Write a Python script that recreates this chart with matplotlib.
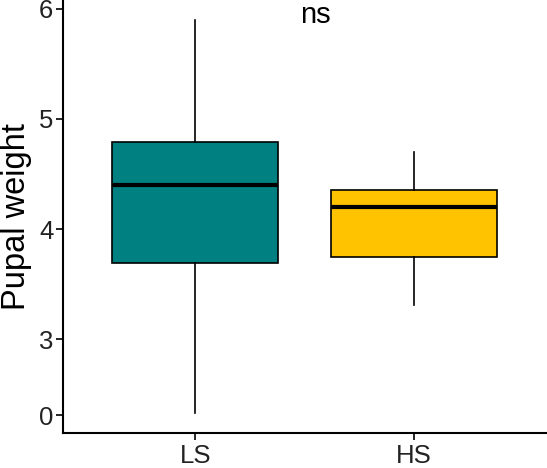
import matplotlib
matplotlib.use('Agg')
import matplotlib.pyplot as plt

plt.rcParams['font.family'] = ['Liberation Sans', 'DejaVu Sans']

groups = ['LS', 'HS']
colors = ['#008080', '#FFC300']
# box stats in plotted units (y axis: 3-6 linear, "0" label sits below 3)
whislo = [2.33, 3.31]
q1 = [3.69, 3.75]
med = [4.40, 4.20]
q3 = [4.79, 4.36]
whishi = [5.90, 4.70]

ytick_pos = [2.31, 3, 4, 5, 6]
ytick_labels = ['0', '3', '4', '5', '6']

fig = plt.figure(figsize=(5.47, 4.68), dpi=100)
ax = fig.add_axes([63 / 547, 35 / 468, 1 - 63 / 547, 1 - 35 / 468])

stats = []
for i, g in enumerate(groups):
    stats.append({'label': g, 'whislo': whislo[i], 'q1': q1[i], 'med': med[i],
                  'q3': q3[i], 'whishi': whishi[i], 'fliers': []})

bp = ax.bxp(stats, positions=[1, 2], widths=0.76, patch_artist=True,
            showcaps=False, showfliers=False,
            boxprops=dict(linewidth=1.2, edgecolor='black'),
            whiskerprops=dict(linewidth=1.2, color='black'),
            medianprops=dict(linewidth=3, color='black'))
for patch, c in zip(bp['boxes'], colors):
    patch.set_facecolor(c)

ax.set_xlim(0.395, 2.61)
ax.set_ylim(2.15, 6.08)
ax.set_yticks(ytick_pos)
ax.set_yticklabels(ytick_labels)
ax.set_xticks([1, 2])
ax.set_xticklabels(groups)

for s in ['top', 'right']:
    ax.spines[s].set_visible(False)
for s in ['left', 'bottom']:
    ax.spines[s].set_linewidth(1.5)

ax.tick_params(axis='both', labelsize=18.5, width=1.2, length=5,
               color='black', labelcolor='#222222')
ax.tick_params(axis='x', pad=3)
ax.tick_params(axis='y', pad=2)
ax.set_ylabel('Pupal weight', fontsize=23.5, labelpad=5)

ax.text(1.55, 5.945, 'ns', fontsize=21, ha='center', va='center')

fig.savefig('out.png', dpi=100)
